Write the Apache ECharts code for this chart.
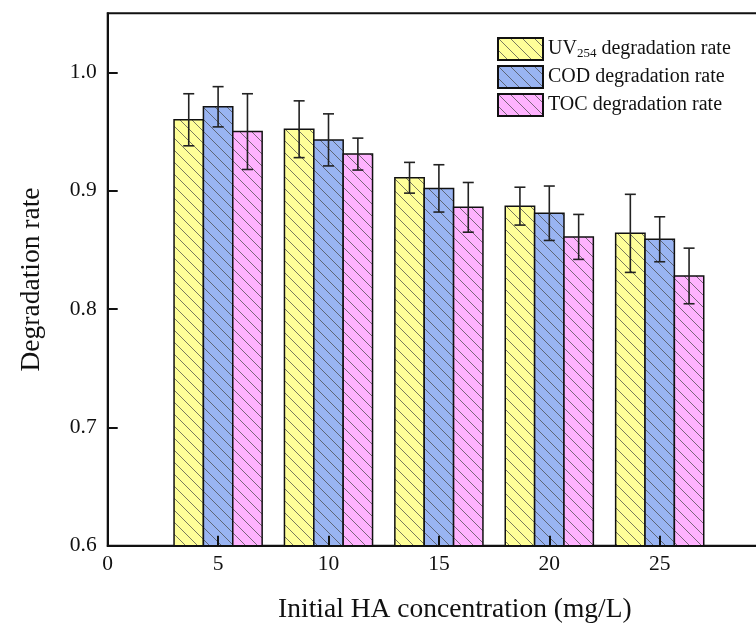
<!DOCTYPE html>
<html>
<head>
<meta charset="utf-8">
<style>
  html, body { margin: 0; padding: 0; background: #fff; }
  #chart { width: 756px; height: 628px; }
</style>
<script src="https://cdn.jsdelivr.net/npm/echarts@6/dist/echarts.min.js"></script>
</head>
<body>
<div id="chart"></div>
<script>
// Initial humic acid concentration (mg/L)
const concentrations = [5, 10, 15, 20, 25];

// Degradation rates and their standard deviations
const uv254 = [0.960, 0.952, 0.911, 0.887, 0.864];
const uv254Err = [0.022, 0.024, 0.013, 0.016, 0.033];
const cod = [0.971, 0.943, 0.902, 0.881, 0.859];
const codErr = [0.017, 0.022, 0.020, 0.023, 0.019];
const toc = [0.950, 0.931, 0.886, 0.861, 0.828];
const tocErr = [0.032, 0.0135, 0.021, 0.019, 0.0235];

const seriesNames = ['UV254 degradation rate', 'COD degradation rate', 'TOC degradation rate'];
const yTicks = [0.6, 0.7, 0.8, 0.9, 1.0];

const Y_MIN = 0.6, Y_MAX = 1.05;
const X_MIN = 0, X_MAX = 30;
const BAR_W = 1.33;           // bar width in x-axis units
const FONT = '"Liberation Serif", "Times New Roman", serif';

// Diagonal "\" hatch over a solid fill
function hatch(bg) {
  const s = 12;
  const c = document.createElement('canvas');
  c.width = s; c.height = s;
  const g = c.getContext('2d');
  g.fillStyle = bg;
  g.fillRect(0, 0, s, s);
  g.strokeStyle = 'rgba(70,70,70,0.8)';
  g.lineWidth = 0.9;
  g.beginPath();
  g.moveTo(-2, -2); g.lineTo(s + 2, s + 2);
  g.moveTo(-2, s - 2); g.lineTo(2, s + 2);
  g.moveTo(s - 2, -2); g.lineTo(s + 2, 2);
  g.stroke();
  return { image: c, repeat: 'repeat' };
}

function barSeries(name, values, errs, offset, bg) {
  return {
    type: 'custom',
    name: name,
    data: concentrations.map((x, i) => [x, values[i], errs[i]]),
    itemStyle: { color: hatch(bg), borderColor: '#111', borderWidth: 1.5 },
    encode: { x: 0, y: 1 },
    z: 2,
    renderItem: function (params, api) {
      const x = api.value(0) + offset;
      const v = api.value(1);
      const e = api.value(2);
      const top = api.coord([x, v]);
      const base = api.coord([x, Y_MIN]);
      const w = api.size([BAR_W, 0])[0];
      const hi = api.coord([x, v + e]);
      const lo = api.coord([x, v - e]);
      const cap = 5.5;
      const errStyle = { stroke: '#222', lineWidth: 1.6 };
      return {
        type: 'group',
        children: [
          { type: 'rect', shape: { x: top[0] - w / 2, y: top[1], width: w, height: base[1] - top[1] }, style: api.style() },
          { type: 'line', shape: { x1: hi[0], y1: hi[1], x2: lo[0], y2: lo[1] }, style: errStyle },
          { type: 'line', shape: { x1: hi[0] - cap, y1: hi[1], x2: hi[0] + cap, y2: hi[1] }, style: errStyle },
          { type: 'line', shape: { x1: lo[0] - cap, y1: lo[1], x2: lo[0] + cap, y2: lo[1] }, style: errStyle }
        ]
      };
    }
  };
}

const chart = echarts.init(document.getElementById('chart'), null, { renderer: 'canvas' });
chart.setOption({
  backgroundColor: '#fff',
  animation: false,
  textStyle: { fontFamily: FONT },
  grid: {
    left: 107.7, top: 13.3, width: 662.4, height: 532.4,
    outerBoundsMode: 'none', containLabel: false,
    show: true, borderColor: '#111', borderWidth: 2, backgroundColor: 'transparent'
  },
  legend: {
    left: 492, top: 32, orient: 'vertical',
    itemWidth: 45, itemHeight: 22, itemGap: 4,
    icon: 'rect',
    data: seriesNames,
    textStyle: {
      fontFamily: FONT, fontSize: 20, color: '#111',
      rich: {
        n: { fontFamily: FONT, fontSize: 20, color: '#111' },
        s: { fontFamily: FONT, fontSize: 13, color: '#111', padding: [10, 0, 0, 0] }
      }
    },
    formatter: function (name) {
      if (name.indexOf('UV254') === 0) {
        return '{n|UV}{s|254}{n|' + name.slice(5) + '}';
      }
      return '{n|' + name + '}';
    }
  },
  xAxis: {
    type: 'value', min: X_MIN, max: X_MAX, interval: 5, z: 5,
    name: 'Initial HA concentration (mg/L)',
    nameLocation: 'middle', nameGap: 50,
    nameTextStyle: { fontFamily: FONT, fontSize: 27.5, color: '#111', padding: [0, 0, 0, 32] },
    axisLine: { lineStyle: { color: '#111', width: 2 } },
    axisTick: { inside: true, length: 10, lineStyle: { color: '#111', width: 2 } },
    axisLabel: { fontFamily: FONT, fontSize: 21.5, color: '#111', margin: 8 },
    splitLine: { show: false }
  },
  yAxis: {
    type: 'value', min: Y_MIN, max: Y_MAX, interval: 0.1, z: 5,
    name: 'Degradation rate',
    nameLocation: 'middle', nameGap: 62, nameRotate: 90,
    nameTextStyle: { fontFamily: FONT, fontSize: 27.5, color: '#111' },
    axisLine: { lineStyle: { color: '#111', width: 2 } },
    axisTick: { inside: true, length: 10, lineStyle: { color: '#111', width: 2 } },
    axisLabel: {
      fontFamily: FONT, fontSize: 21.5, color: '#111', margin: 11,
      showMaxLabel: false,
      formatter: function (v) {
        return yTicks.some(t => Math.abs(t - v) < 1e-6) ? v.toFixed(1) : '';
      }
    },
    splitLine: { show: false }
  },
  series: [
    barSeries(seriesNames[0], uv254, uv254Err, -BAR_W, '#FFFF99'),
    barSeries(seriesNames[1], cod, codErr, 0, '#99B4F2'),
    barSeries(seriesNames[2], toc, tocErr, BAR_W, '#FFB3FF')
  ]
});
</script>
</body>
</html>
